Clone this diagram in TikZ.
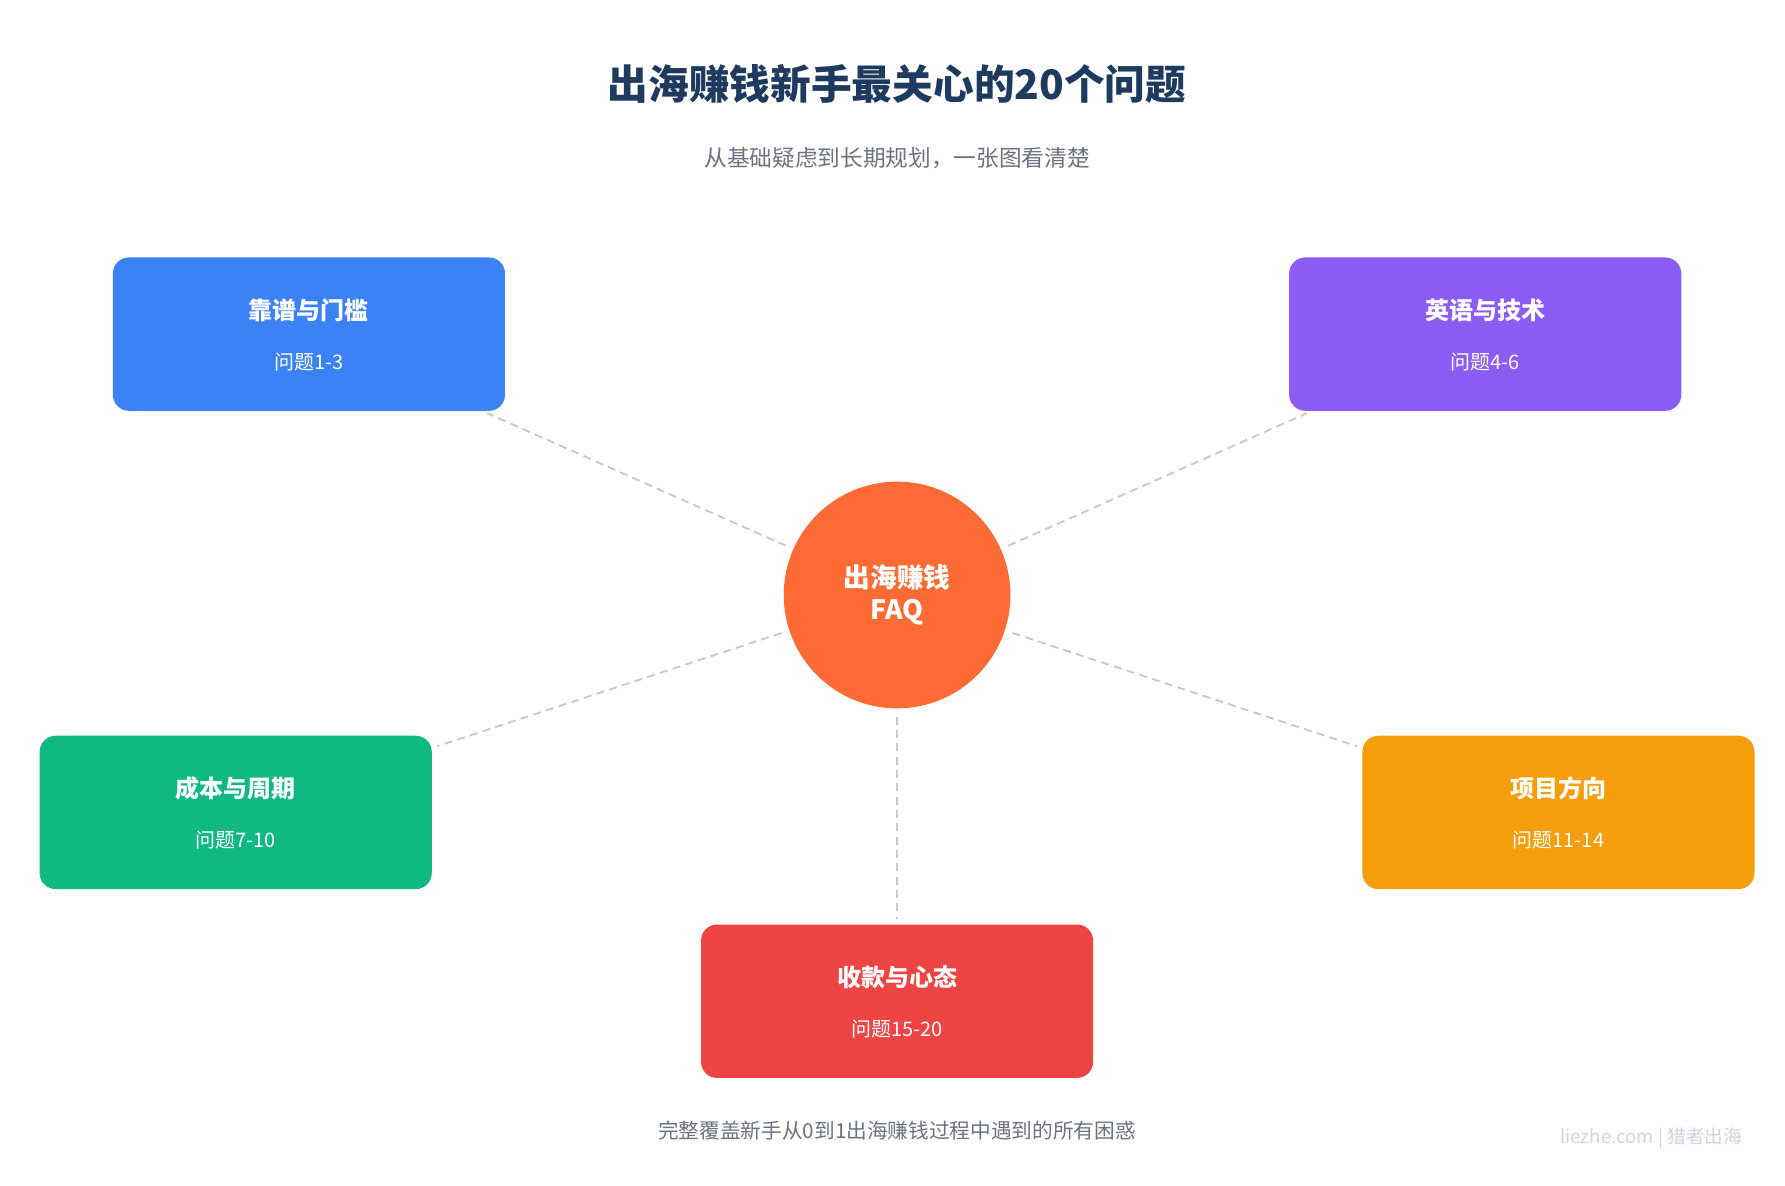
\documentclass[tikz,border=0pt]{standalone}
\usepackage{fontspec}
\setmainfont{Noto Sans CJK SC}
\definecolor{navy}{HTML}{1E3A5F}
\definecolor{subgray}{HTML}{6B7280}
\definecolor{linegray}{HTML}{C8C8C8}
\definecolor{markgray}{HTML}{CBD5E1}
\definecolor{hub}{HTML}{FF6B35}
\definecolor{cblue}{HTML}{3B82F6}
\definecolor{cpurple}{HTML}{8B5CF6}
\definecolor{cgreen}{HTML}{10B981}
\definecolor{corange}{HTML}{F59E0B}
\definecolor{cred}{HTML}{EF4444}
\tikzset{
  topic/.style={rectangle, rounded corners=12, minimum width=294pt, minimum height=115pt, inner sep=0pt},
  topictitle/.style={text=white, font=\bfseries\fontsize{18}{22}\selectfont},
  topicsub/.style={text=white, font=\fontsize{15}{18}\selectfont},
  spoke/.style={draw=linegray, line width=1.4pt, dash pattern=on 6pt off 4pt, shorten <=6pt, shorten >=4pt}
}
\begin{document}
\begin{tikzpicture}[x=0.858pt,y=0.858pt,yscale=-1,xscale=1]
\useasboundingbox (0,0) rectangle (1560,1036);

% Titles
\node (title) [text=navy, font=\bfseries\fontsize{30.5}{36}\selectfont] at (784,73) {出海赚钱新手最关心的20个问题};
\node (subtitle) [text=subgray, font=\fontsize{17}{20}\selectfont] at (784,138) {从基础疑虑到长期规划，一张图看清楚};

% Hub
\node (hub) [circle, fill=hub, minimum size=170pt, inner sep=0pt, align=center, text=white, font=\bfseries\fontsize{20}{24}\selectfont] at (784,520) {出海赚钱\\FAQ};

% Topic boxes
\node (trust) [topic, fill=cblue] at (270,292) {};
\node (lang) [topic, fill=cpurple] at (1298,292) {};
\node (cost) [topic, fill=cgreen] at (206,710) {};
\node (proj) [topic, fill=corange] at (1362,710) {};
\node (pay) [topic, fill=cred] at (784,875) {};

\node [topictitle] at (270,271) {靠谱与门槛};
\node [topicsub] at (270,316) {问题1-3};
\node [topictitle] at (1298,271) {英语与技术};
\node [topicsub] at (1298,316) {问题4-6};
\node [topictitle] at (206,689) {成本与周期};
\node [topicsub] at (206,734) {问题7-10};
\node [topictitle] at (1362,689) {项目方向};
\node [topicsub] at (1362,734) {问题11-14};
\node [topictitle] at (784,854) {收款与心态};
\node [topicsub] at (784,899) {问题15-20};

% Spokes
\foreach \t in {trust,lang,cost,proj,pay}
  \draw [spoke] (hub) -- (\t);

% Footer
\node (footer) [text=subgray, font=\fontsize{15.5}{18}\selectfont] at (784,988) {完整覆盖新手从0到1出海赚钱过程中遇到的所有困惑};
\node (mark) [text=markgray, font=\fontsize{14}{17}\selectfont] at (1443,995) {liezhe.com | 猎者出海};
\end{tikzpicture}
\end{document}
